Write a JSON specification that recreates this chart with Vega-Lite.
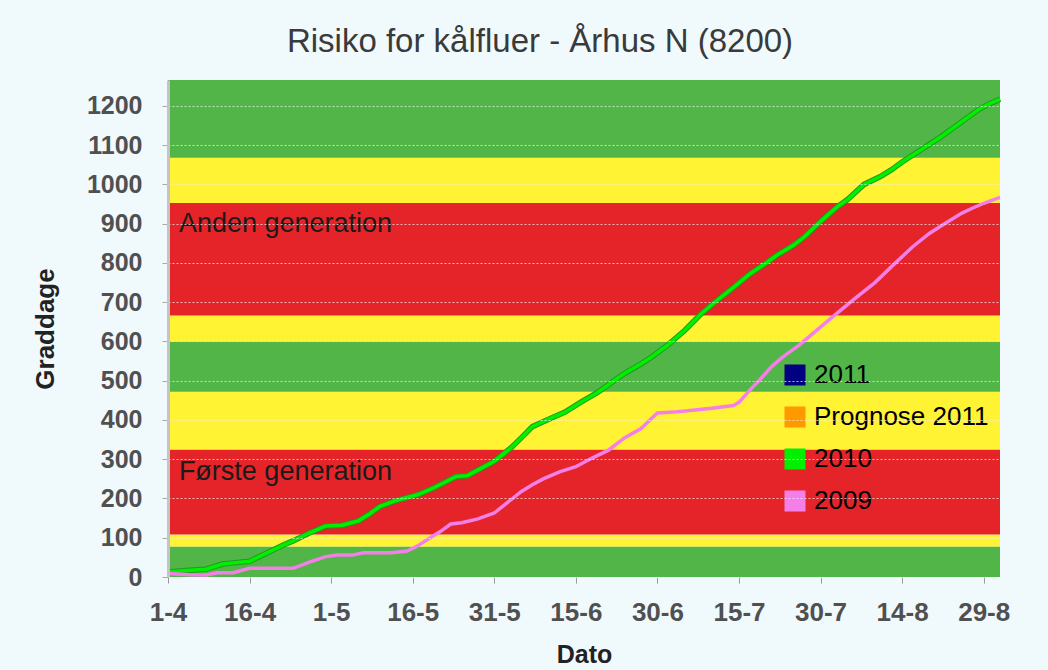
{
  "$schema": "https://vega.github.io/schema/vega-lite/v6.json",
  "width": 832,
  "height": 497,
  "autosize": {"type": "none"},
  "padding": {"left": 168, "top": 80, "right": 48, "bottom": 93},
  "background": "#f0f9fc",
  "config": {"view": {"stroke": null}, "font": "Liberation Sans"},
  "title": {
    "text": "Risiko for kålfluer - Århus N (8200)",
    "anchor": "middle", "frame": "group", "dx": -44, "offset": 27, "dy": 32,
    "baseline": "alphabetic", "fontSize": 33, "fontWeight": "normal",
    "color": "#3a3a3a", "font": "Liberation Sans"
  },
  "datasets": {
    "baand": [
      {"fra": 0, "til": 78, "niveau": "lav"},
      {"fra": 78, "til": 108, "niveau": "middel"},
      {"fra": 108, "til": 325, "niveau": "høj"},
      {"fra": 325, "til": 472, "niveau": "middel"},
      {"fra": 472, "til": 600, "niveau": "lav"},
      {"fra": 600, "til": 666, "niveau": "middel"},
      {"fra": 666, "til": 953, "niveau": "høj"},
      {"fra": 953, "til": 1068, "niveau": "middel"},
      {"fra": 1068, "til": 1266, "niveau": "lav"}
    ],
    "noter": [
      {"dato": "2010-04-03", "graddage": 898, "tekst": "Anden generation"},
      {"dato": "2010-04-03", "graddage": 268, "tekst": "Første generation"}
    ],
    "kurver": [
      {"serie": "2010", "dato": "2010-04-01", "graddage": 13},
      {"serie": "2010", "dato": "2010-04-05", "graddage": 17},
      {"serie": "2010", "dato": "2010-04-08", "graddage": 20},
      {"serie": "2010", "dato": "2010-04-11", "graddage": 33},
      {"serie": "2010", "dato": "2010-04-13", "graddage": 36},
      {"serie": "2010", "dato": "2010-04-16", "graddage": 40},
      {"serie": "2010", "dato": "2010-04-19", "graddage": 60},
      {"serie": "2010", "dato": "2010-04-22", "graddage": 80},
      {"serie": "2010", "dato": "2010-04-24", "graddage": 92},
      {"serie": "2010", "dato": "2010-04-27", "graddage": 112},
      {"serie": "2010", "dato": "2010-04-30", "graddage": 130},
      {"serie": "2010", "dato": "2010-05-03", "graddage": 132},
      {"serie": "2010", "dato": "2010-05-06", "graddage": 143},
      {"serie": "2010", "dato": "2010-05-08", "graddage": 160},
      {"serie": "2010", "dato": "2010-05-10", "graddage": 180},
      {"serie": "2010", "dato": "2010-05-13", "graddage": 195},
      {"serie": "2010", "dato": "2010-05-17", "graddage": 210},
      {"serie": "2010", "dato": "2010-05-20", "graddage": 228},
      {"serie": "2010", "dato": "2010-05-24", "graddage": 256},
      {"serie": "2010", "dato": "2010-05-26", "graddage": 258},
      {"serie": "2010", "dato": "2010-05-29", "graddage": 280},
      {"serie": "2010", "dato": "2010-05-31", "graddage": 295},
      {"serie": "2010", "dato": "2010-06-03", "graddage": 328},
      {"serie": "2010", "dato": "2010-06-05", "graddage": 355},
      {"serie": "2010", "dato": "2010-06-07", "graddage": 383},
      {"serie": "2010", "dato": "2010-06-10", "graddage": 402},
      {"serie": "2010", "dato": "2010-06-13", "graddage": 420},
      {"serie": "2010", "dato": "2010-06-16", "graddage": 446},
      {"serie": "2010", "dato": "2010-06-19", "graddage": 470},
      {"serie": "2010", "dato": "2010-06-22", "graddage": 500},
      {"serie": "2010", "dato": "2010-06-24", "graddage": 519},
      {"serie": "2010", "dato": "2010-06-27", "graddage": 543},
      {"serie": "2010", "dato": "2010-06-29", "graddage": 561},
      {"serie": "2010", "dato": "2010-07-02", "graddage": 592},
      {"serie": "2010", "dato": "2010-07-05", "graddage": 628},
      {"serie": "2010", "dato": "2010-07-08", "graddage": 670},
      {"serie": "2010", "dato": "2010-07-11", "graddage": 705},
      {"serie": "2010", "dato": "2010-07-14", "graddage": 738},
      {"serie": "2010", "dato": "2010-07-17", "graddage": 772},
      {"serie": "2010", "dato": "2010-07-20", "graddage": 800},
      {"serie": "2010", "dato": "2010-07-22", "graddage": 820},
      {"serie": "2010", "dato": "2010-07-25", "graddage": 845},
      {"serie": "2010", "dato": "2010-07-27", "graddage": 866},
      {"serie": "2010", "dato": "2010-07-29", "graddage": 893},
      {"serie": "2010", "dato": "2010-07-31", "graddage": 918},
      {"serie": "2010", "dato": "2010-08-02", "graddage": 942},
      {"serie": "2010", "dato": "2010-08-04", "graddage": 962},
      {"serie": "2010", "dato": "2010-08-07", "graddage": 1000},
      {"serie": "2010", "dato": "2010-08-10", "graddage": 1020},
      {"serie": "2010", "dato": "2010-08-12", "graddage": 1037},
      {"serie": "2010", "dato": "2010-08-14", "graddage": 1057},
      {"serie": "2010", "dato": "2010-08-16", "graddage": 1075},
      {"serie": "2010", "dato": "2010-08-19", "graddage": 1102},
      {"serie": "2010", "dato": "2010-08-21", "graddage": 1120},
      {"serie": "2010", "dato": "2010-08-23", "graddage": 1140},
      {"serie": "2010", "dato": "2010-08-25", "graddage": 1160},
      {"serie": "2010", "dato": "2010-08-28", "graddage": 1190},
      {"serie": "2010", "dato": "2010-08-30", "graddage": 1205},
      {"serie": "2010", "dato": "2010-09-01", "graddage": 1217},
      {"serie": "2009", "dato": "2010-04-01", "graddage": 9},
      {"serie": "2009", "dato": "2010-04-05", "graddage": 6},
      {"serie": "2009", "dato": "2010-04-08", "graddage": 5},
      {"serie": "2009", "dato": "2010-04-10", "graddage": 11},
      {"serie": "2009", "dato": "2010-04-13", "graddage": 11},
      {"serie": "2009", "dato": "2010-04-16", "graddage": 22},
      {"serie": "2009", "dato": "2010-04-21", "graddage": 22},
      {"serie": "2009", "dato": "2010-04-24", "graddage": 22},
      {"serie": "2009", "dato": "2010-04-27", "graddage": 38},
      {"serie": "2009", "dato": "2010-04-30", "graddage": 52},
      {"serie": "2009", "dato": "2010-05-02", "graddage": 56},
      {"serie": "2009", "dato": "2010-05-05", "graddage": 56},
      {"serie": "2009", "dato": "2010-05-07", "graddage": 62},
      {"serie": "2009", "dato": "2010-05-12", "graddage": 62},
      {"serie": "2009", "dato": "2010-05-15", "graddage": 66},
      {"serie": "2009", "dato": "2010-05-17", "graddage": 80},
      {"serie": "2009", "dato": "2010-05-19", "graddage": 98},
      {"serie": "2009", "dato": "2010-05-21", "graddage": 115},
      {"serie": "2009", "dato": "2010-05-23", "graddage": 135},
      {"serie": "2009", "dato": "2010-05-25", "graddage": 138},
      {"serie": "2009", "dato": "2010-05-28", "graddage": 148},
      {"serie": "2009", "dato": "2010-05-31", "graddage": 163},
      {"serie": "2009", "dato": "2010-06-02", "graddage": 185},
      {"serie": "2009", "dato": "2010-06-05", "graddage": 218},
      {"serie": "2009", "dato": "2010-06-07", "graddage": 235},
      {"serie": "2009", "dato": "2010-06-09", "graddage": 250},
      {"serie": "2009", "dato": "2010-06-12", "graddage": 268},
      {"serie": "2009", "dato": "2010-06-15", "graddage": 281},
      {"serie": "2009", "dato": "2010-06-18", "graddage": 303},
      {"serie": "2009", "dato": "2010-06-21", "graddage": 323},
      {"serie": "2009", "dato": "2010-06-24", "graddage": 355},
      {"serie": "2009", "dato": "2010-06-27", "graddage": 378},
      {"serie": "2009", "dato": "2010-06-29", "graddage": 405},
      {"serie": "2009", "dato": "2010-06-30", "graddage": 418},
      {"serie": "2009", "dato": "2010-07-03", "graddage": 420},
      {"serie": "2009", "dato": "2010-07-06", "graddage": 424},
      {"serie": "2009", "dato": "2010-07-10", "graddage": 430},
      {"serie": "2009", "dato": "2010-07-14", "graddage": 437},
      {"serie": "2009", "dato": "2010-07-15", "graddage": 445},
      {"serie": "2009", "dato": "2010-07-17", "graddage": 476},
      {"serie": "2009", "dato": "2010-07-19", "graddage": 505},
      {"serie": "2009", "dato": "2010-07-21", "graddage": 536},
      {"serie": "2009", "dato": "2010-07-23", "graddage": 560},
      {"serie": "2009", "dato": "2010-07-26", "graddage": 590},
      {"serie": "2009", "dato": "2010-07-29", "graddage": 625},
      {"serie": "2009", "dato": "2010-08-01", "graddage": 660},
      {"serie": "2009", "dato": "2010-08-05", "graddage": 706},
      {"serie": "2009", "dato": "2010-08-09", "graddage": 750},
      {"serie": "2009", "dato": "2010-08-12", "graddage": 790},
      {"serie": "2009", "dato": "2010-08-16", "graddage": 842},
      {"serie": "2009", "dato": "2010-08-19", "graddage": 875},
      {"serie": "2009", "dato": "2010-08-21", "graddage": 893},
      {"serie": "2009", "dato": "2010-08-23", "graddage": 910},
      {"serie": "2009", "dato": "2010-08-25", "graddage": 927},
      {"serie": "2009", "dato": "2010-08-27", "graddage": 940},
      {"serie": "2009", "dato": "2010-08-29", "graddage": 952},
      {"serie": "2009", "dato": "2010-09-01", "graddage": 967}
    ]
  },
  "layer": [
    {
      "data": {"name": "baand"},
      "mark": {"type": "rect"},
      "encoding": {
        "y": {"field": "fra", "type": "quantitative", "scale": {"domain": [0, 1266], "nice": false, "zero": false}},
        "y2": {"field": "til"},
        "fill": {"field": "niveau", "type": "nominal", "scale": {"domain": ["lav", "middel", "høj"], "range": ["#52b548", "#fff334", "#e42428"]}, "legend": null}
      }
    },
    {
      "data": {"name": "noter"},
      "mark": {"type": "text", "align": "left", "baseline": "middle", "fontSize": 27, "color": "#1a1a1a", "font": "Liberation Sans"},
      "encoding": {
        "x": {"field": "dato", "type": "temporal", "scale": {"type": "utc", "domain": [{"year": 2010, "month": 4, "date": 1, "utc": true}, {"year": 2010, "month": 9, "date": 1, "utc": true}]}},
        "y": {"field": "graddage", "type": "quantitative", "scale": {"domain": [0, 1266], "nice": false, "zero": false}},
        "text": {"field": "tekst"}
      }
    },
    {
      "data": {"name": "kurver"},
      "transform": [{"filter": "datum.serie == '2010'"}],
      "mark": {"type": "line", "strokeWidth": 5.5, "stroke": "#1f9a1f", "interpolate": "linear"},
      "encoding": {
        "x": {"field": "dato", "type": "temporal", "scale": {"type": "utc", "domain": [{"year": 2010, "month": 4, "date": 1, "utc": true}, {"year": 2010, "month": 9, "date": 1, "utc": true}]}},
        "y": {"field": "graddage", "type": "quantitative", "scale": {"domain": [0, 1266], "nice": false, "zero": false}}
      }
    },
    {
      "data": {"name": "kurver"},
      "mark": {"type": "line", "strokeWidth": 3.5},
      "encoding": {
        "x": {
          "field": "dato", "type": "temporal",
          "scale": {"type": "utc", "domain": [{"year": 2010, "month": 4, "date": 1, "utc": true}, {"year": 2010, "month": 9, "date": 1, "utc": true}]},
          "axis": {
            "title": "Dato",
            "values": [
              {"year": 2010, "month": 4, "date": 1, "utc": true},
              {"year": 2010, "month": 4, "date": 16, "utc": true},
              {"year": 2010, "month": 5, "date": 1, "utc": true},
              {"year": 2010, "month": 5, "date": 16, "utc": true},
              {"year": 2010, "month": 5, "date": 31, "utc": true},
              {"year": 2010, "month": 6, "date": 15, "utc": true},
              {"year": 2010, "month": 6, "date": 30, "utc": true},
              {"year": 2010, "month": 7, "date": 15, "utc": true},
              {"year": 2010, "month": 7, "date": 30, "utc": true},
              {"year": 2010, "month": 8, "date": 14, "utc": true},
              {"year": 2010, "month": 8, "date": 29, "utc": true}
            ],
            "format": "%-d-%-m",
            "labelFont": "Liberation Sans", "labelFontSize": 26, "labelFontWeight": "bold", "labelColor": "#505050",
            "tickColor": "#999999", "tickSize": 6, "labelPadding": 16, "domain": false, "grid": false,
            "labelFlush": false, "labelOverlap": false,
            "titleFont": "Liberation Sans", "titleFontSize": 25, "titleFontWeight": "bold", "titleColor": "#222222", "titlePadding": 17
          }
        },
        "y": {
          "field": "graddage", "type": "quantitative",
          "scale": {"domain": [0, 1266], "nice": false, "zero": false},
          "axis": {
            "title": "Graddage",
            "values": [0, 100, 200, 300, 400, 500, 600, 700, 800, 900, 1000, 1100, 1200],
            "format": "d",
            "labelFont": "Liberation Sans", "labelFontSize": 25, "labelFontWeight": "bold", "labelColor": "#505050",
            "tickColor": "#aaaaaa", "tickSize": 6, "labelPadding": 20,
            "domainColor": "#c4c4c4", "domainWidth": 3,
            "grid": true, "gridColor": "#eeeeee", "gridOpacity": 0.75, "gridDash": [2, 2], "gridWidth": 1,
            "zindex": 1, "labelOverlap": false,
            "titleFont": "Liberation Sans", "titleFontSize": 26, "titleFontWeight": "bold", "titleColor": "#222222", "titlePadding": 28
          }
        },
        "color": {
          "field": "serie", "type": "nominal",
          "scale": {"domain": ["2011", "Prognose 2011", "2010", "2009"], "range": ["#000080", "#ff9900", "#00f000", "#f47fe8"]},
          "legend": {
            "orient": "none", "legendX": 614, "legendY": 282, "title": null,
            "symbolType": "square", "symbolSize": 441, "symbolStrokeWidth": 0,
            "labelFont": "Liberation Sans", "labelFontSize": 26, "labelColor": "#000000",
            "labelOffset": 6, "rowPadding": 16, "labelLimit": 400,
            "encode": {"symbols": {"update": {"fill": {"scale": "color", "field": "value"}, "fillOpacity": {"value": 1}}}}
          }
        }
      }
    }
  ]
}
